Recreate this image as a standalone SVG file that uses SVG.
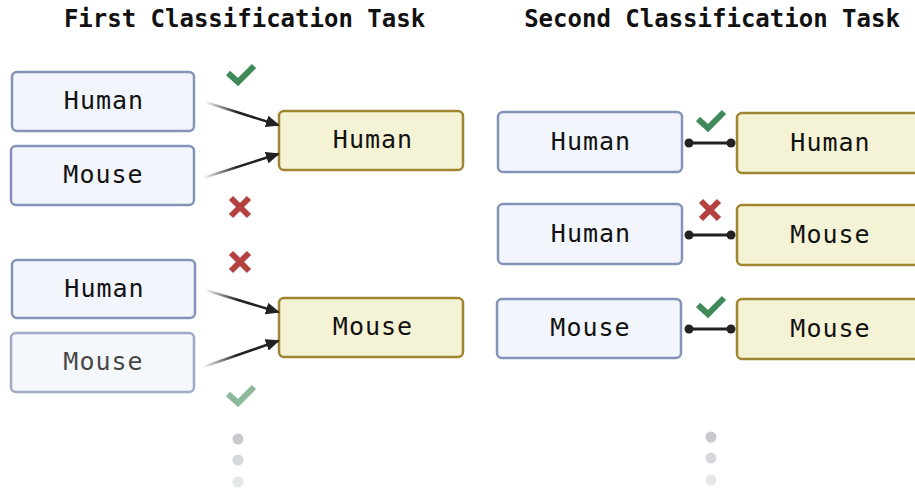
<svg xmlns="http://www.w3.org/2000/svg" width="915" height="502" viewBox="0 0 915 502">
  <style>
    .title { font-family: "DejaVu Sans Mono", "Liberation Mono", monospace; font-weight: bold; font-size: 24px; fill: #111; text-anchor: middle; }
    .label { font-family: "DejaVu Sans Mono", "Liberation Mono", monospace; font-size: 25px; letter-spacing: 1px; fill: #111; text-anchor: middle; }
    .inp rect { fill: #f2f5fb; stroke: #8593b8; stroke-width: 2.5; }
    .cls rect { fill: #f5f3d6; stroke: #a08532; stroke-width: 2.5; }
    .ok { fill: none; stroke: #3f8a58; stroke-width: 6; stroke-linejoin: miter; }
    .bad { fill: none; stroke: #b3413f; stroke-width: 6; }
    .arrow { fill: none; stroke-width: 2.5; marker-end: url(#head); }
    .link { stroke: #222; stroke-width: 3; }
    .pin { fill: #222; }
    .dot { fill: #c8c9cd; }
  </style>
  <defs>
    <linearGradient id="fadeIn" x1="0" y1="0" x2="1" y2="0">
      <stop offset="0" stop-color="#222" stop-opacity="0"/>
      <stop offset="0.45" stop-color="#222" stop-opacity="1"/>
      <stop offset="1" stop-color="#222" stop-opacity="1"/>
    </linearGradient>
    <marker id="head" markerWidth="14" markerHeight="12" refX="12" refY="6" orient="auto" markerUnits="userSpaceOnUse">
      <path d="M0,0 L14,6 L0,12 Z" fill="#222"/>
    </marker>
    <path id="tick" d="M0,8 L10,17 L26,1"/>
    <path id="cross" d="M0,0 L18,18 M18,0 L0,18"/>
  </defs>

  <!-- headings -->
  <text class="title" x="244.5" y="27">First Classification Task</text>
  <text class="title" x="712" y="27">Second Classification Task</text>

  <!-- first task: inputs -->
  <g id="in-human-1" class="inp">
    <rect x="12" y="72" width="182" height="59" rx="5"/>
    <text class="label" x="104" y="108.5">Human</text>
  </g>
  <g id="in-mouse-1" class="inp">
    <rect x="11" y="146" width="183" height="59" rx="5"/>
    <text class="label" x="103.5" y="182.5">Mouse</text>
  </g>
  <g id="in-human-2" class="inp">
    <rect x="12" y="260" width="183" height="58" rx="5"/>
    <text class="label" x="104.5" y="296.5">Human</text>
  </g>
  <g id="in-mouse-2" class="inp" opacity="0.78">
    <rect x="11" y="333" width="183" height="59" rx="5"/>
    <text class="label" x="103.5" y="369.5">Mouse</text>
  </g>

  <!-- first task: classes -->
  <g id="cls-human" class="cls">
    <rect x="279" y="111" width="184" height="59" rx="5"/>
    <text class="label" x="373" y="147.5">Human</text>
  </g>
  <g id="cls-mouse" class="cls">
    <rect x="279" y="298" width="184" height="59" rx="5"/>
    <text class="label" x="373" y="334.5">Mouse</text>
  </g>

  <!-- second task: inputs -->
  <g id="pair-in-1" class="inp">
    <rect x="498" y="112" width="184" height="60" rx="5"/>
    <text class="label" x="591" y="149.5">Human</text>
  </g>
  <g id="pair-in-2" class="inp">
    <rect x="498" y="204" width="184" height="60" rx="5"/>
    <text class="label" x="591" y="241.5">Human</text>
  </g>
  <g id="pair-in-3" class="inp">
    <rect x="497" y="299" width="184" height="59" rx="5"/>
    <text class="label" x="590.5" y="336">Mouse</text>
  </g>

  <!-- second task: classes -->
  <g id="pair-cls-1" class="cls">
    <rect x="737" y="113" width="186" height="60" rx="5"/>
    <text class="label" x="830.5" y="150.5">Human</text>
  </g>
  <g id="pair-cls-2" class="cls">
    <rect x="737" y="205" width="186" height="60" rx="5"/>
    <text class="label" x="830.5" y="242.5">Mouse</text>
  </g>
  <g id="pair-cls-3" class="cls">
    <rect x="737" y="299" width="186" height="60" rx="5"/>
    <text class="label" x="830.5" y="336.5">Mouse</text>
  </g>

  <!-- connectors -->
  <g id="connectors">
    <line class="arrow" x1="205" y1="102" x2="278" y2="125" stroke="url(#fadeIn)"/>
    <line class="arrow" x1="203" y1="178" x2="278" y2="154" stroke="url(#fadeIn)"/>
    <line class="arrow" x1="205" y1="290" x2="278" y2="312" stroke="url(#fadeIn)"/>
    <line class="arrow" x1="203" y1="367" x2="278" y2="341" stroke="url(#fadeIn)"/>

    <line class="link" x1="689" y1="143" x2="731" y2="143"/>
    <circle class="pin" cx="689" cy="143" r="4.5"/>
    <circle class="pin" cx="731" cy="143" r="4.5"/>
    <line class="link" x1="689" y1="235" x2="731" y2="235"/>
    <circle class="pin" cx="689" cy="235" r="4.5"/>
    <circle class="pin" cx="731" cy="235" r="4.5"/>
    <line class="link" x1="689" y1="329" x2="731" y2="329"/>
    <circle class="pin" cx="689" cy="329" r="4.5"/>
    <circle class="pin" cx="731" cy="329" r="4.5"/>
  </g>

  <!-- verdict marks -->
  <g id="marks">
    <use href="#tick" class="ok" x="228" y="65"/>
    <use href="#cross" class="bad" x="231" y="198"/>
    <use href="#cross" class="bad" x="231" y="253"/>
    <use href="#tick" class="ok" x="228" y="386" opacity="0.6"/>
    <use href="#tick" class="ok" x="698" y="111"/>
    <use href="#cross" class="bad" x="701" y="201"/>
    <use href="#tick" class="ok" x="698" y="297"/>
  </g>

  <!-- continuation dots -->
  <g id="more-1">
    <circle class="dot" cx="238" cy="439" r="5.5"/>
    <circle class="dot" cx="238" cy="460" r="5.5" opacity="0.75"/>
    <circle class="dot" cx="238" cy="482" r="5.5" opacity="0.45"/>
  </g>
  <g id="more-2">
    <circle class="dot" cx="711" cy="437" r="5.5"/>
    <circle class="dot" cx="711" cy="458" r="5.5" opacity="0.75"/>
    <circle class="dot" cx="711" cy="480" r="5.5" opacity="0.45"/>
  </g>
</svg>
